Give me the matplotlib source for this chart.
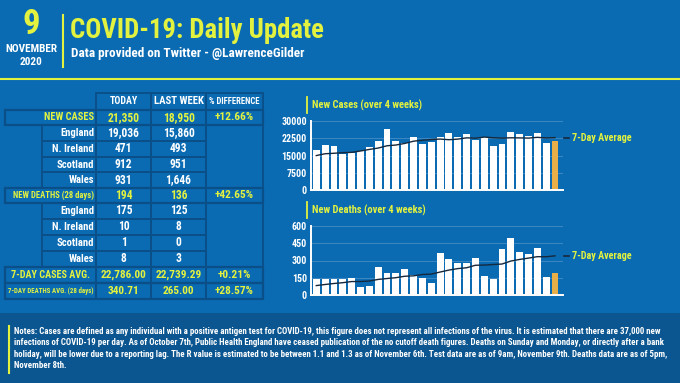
import matplotlib
matplotlib.use("Agg")
import matplotlib.pyplot as plt
from matplotlib import font_manager
from matplotlib.patches import Rectangle
import numpy as np

installed = {f.name for f in font_manager.fontManager.ttflist}
narrow = [n for n in ['Roboto Condensed', 'Liberation Sans Narrow', 'Roboto'] if n in installed]
plt.rcParams['font.family'] = narrow[:1] + ['DejaVu Sans']
plt.rcParams['font.weight'] = 'bold'

BG = '#0A6BB3'
DARK = '#0B4F88'
NOTES_BG = '#0B5690'
YELLOW = '#E3F23F'
ORANGE = '#E8AE48'
LINE = '#16283C'

# daily data, 13 Oct - 9 Nov 2020
cases = [17234, 19724, 18980, 15650, 16171, 16982, 18804, 21331, 26688, 21242,
         20530, 23012, 19790, 20890, 22885, 24701, 23065, 24405, 21915, 23254,
         18950, 20018, 25177, 24141, 23287, 24957, 20572, 21350]
cases_avg = [14973, 15767, 15973, 16228, 16372, 16959, 17649, 18235, 19229, 19553,
             20250, 21227, 21628, 21926, 22148, 21864, 22125, 22678, 22522, 23016,
             22739, 22560, 22700, 22650, 22560, 22900, 22650, 22786]
deaths = [143, 137, 138, 136, 150, 67, 80, 241, 191, 189, 224, 174, 151, 102,
          367, 310, 280, 274, 326, 162, 136, 397, 492, 378, 355, 413, 156, 194]
deaths_avg = [81.9, 91.4, 100.1, 107.1, 117.0, 117.3, 121.6, 135.6, 143.3, 150.6,
              163.1, 166.6, 178.6, 181.7, 199.7, 216.7, 229.7, 236.9, 258.6, 260.1,
              265.0, 269.3, 295.3, 309.3, 320.9, 333.3, 332.4, 340.7]

# table
row_labels = ['NEW CASES', 'England', 'N. Ireland', 'Scotland', 'Wales',
              'NEW DEATHS (28 days)', 'England', 'N. Ireland', 'Scotland', 'Wales',
              '7-DAY CASES AVG.', '7-DAY DEATHS AVG. (28 days)']
today = ['21,350', '19,036', '471', '912', '931', '194', '175', '10', '1', '8',
         '22,786.00', '340.71']
last_week = ['18,950', '15,860', '493', '951', '1,646', '136', '125', '8', '0', '3',
             '22,739.29', '265.00']
pct_diff = ['+12.66%', '', '', '', '', '+42.65%', '', '', '', '', '+0.21%', '+28.57%']
headers = ['TODAY', 'LAST WEEK', '% DIFFERENCE']

notes = ("Notes: Cases are defined as any individual with a positive antigen test for COVID-19, this figure does not represent all infections of the virus. It is estimated that there are 37,000 new\n"
         "infections of COVID-19 per day. As of October 7th, Public Health England have ceased publication of the no cutoff death figures. Deaths on Sunday and Monday, or directly after a bank\n"
         "holiday, will be lower due to a reporting lag. The R value is estimated to be between 1.1 and 1.3 as of November 6th. Test data are as of 9am, November 9th. Deaths data are as of 5pm,\n"
         "November 8th.")

W, H = 680, 383
fig = plt.figure(figsize=(W / 100, H / 100), dpi=100, facecolor=BG)
renderer = fig.canvas.get_renderer()


def px_axes(x, y, w, h):
    return fig.add_axes([x / W, 1 - (y + h) / H, w / W, h / H])


ov = px_axes(0, 0, W, H)
ov.set_xlim(0, W)
ov.set_ylim(H, 0)
ov.axis('off')


def fit(s, width, **kw):
    # font size that makes the string this many pixels wide
    t = ov.text(0, 0, s, fontsize=10, **kw)
    w = t.get_window_extent(renderer).width
    t.remove()
    return 10 * width / w


# header
ov.text(31, 24, '9', color=YELLOW, fontsize=25, ha='center', va='center')
ov.text(31, 49, 'NOVEMBER', color='white', fontsize=fit('NOVEMBER', 52), ha='center', va='center')
ov.text(31, 62, '2020', color='white', fontsize=fit('NOVEMBER', 52), ha='center', va='center')
ov.plot([63, 63], [15, 67], color=YELLOW, lw=1.5)
ov.text(70, 31, 'COVID-19: Daily Update', color=YELLOW,
        fontsize=fit('COVID-19: Daily Update', 253), ha='left', va='center')
sub = 'Data provided on Twitter - @LawrenceGilder'
ov.text(71, 53, sub, color='white', fontsize=fit(sub, 235), ha='left', va='center')
ov.plot([0, W], [79, 79], color=YELLOW, lw=1.5)

# table
cols = [96, 151, 206, 263]
row_edges = [110, 125, 141, 157, 172, 188, 203, 219, 235, 251, 267, 283, 299]
main_rows = [0, 5, 10, 11]
label_w = {'NEW CASES': 50, 'NEW DEATHS (28 days)': 81, '7-DAY CASES AVG.': 79,
           '7-DAY DEATHS AVG. (28 days)': 85}
sub_fs = fit('England', 34)
num_fs = fit('21,350', 32)
avg_fs = fit('22,786.00', 46)
pct_fs = fit('+12.66%', 39)


def cell(x0, y0, x1, y1, lw=1.3):
    ov.add_patch(Rectangle((x0, y0), x1 - x0, y1 - y0, facecolor='none',
                           edgecolor=DARK, lw=lw))


for j, (hd, hw) in enumerate(zip(headers, [28, 50, 50])):
    cell(cols[j], 93, cols[j + 1], 110)
    ov.text((cols[j] + cols[j + 1]) / 2, 101.5, hd, color='white',
            fontsize=fit(hd, hw), ha='center', va='center')

for i, lab in enumerate(row_labels):
    y0, y1 = row_edges[i], row_edges[i + 1]
    yc = (y0 + y1) / 2
    main = i in main_rows
    if main:
        cell(5, y0, cols[3], y1, lw=1.6)
        cell(5, y0, cols[0], y1)
        cell(cols[2], y0, cols[3], y1)
    else:
        cell(42, y0, cols[0], y1)
    cell(cols[0], y0, cols[1], y1)
    cell(cols[1], y0, cols[2], y1)
    tcol = YELLOW if main else 'white'
    fs = fit(lab, label_w[lab]) if main else sub_fs
    vfs = avg_fs if i >= 10 else num_fs
    if i >= 10:
        ov.text((5 + cols[0]) / 2, yc, lab, color=tcol, fontsize=fs, ha='center', va='center')
    else:
        ov.text(cols[0] - 2, yc, lab, color=tcol, fontsize=fs, ha='right', va='center')
    ov.text((cols[0] + cols[1]) / 2, yc, today[i], color=tcol, fontsize=vfs,
            ha='center', va='center')
    ov.text((cols[1] + cols[2]) / 2, yc, last_week[i], color=tcol, fontsize=vfs,
            ha='center', va='center')
    if pct_diff[i]:
        ov.text((cols[2] + cols[3]) / 2, yc, pct_diff[i], color=tcol, fontsize=pct_fs,
                ha='center', va='center')

# merged blank % cells
cell(cols[2], row_edges[1], cols[3], row_edges[5])
cell(cols[2], row_edges[6], cols[3], row_edges[10])

# notes band
ov.add_patch(Rectangle((0, 313), W, H - 313, facecolor=NOTES_BG, edgecolor='none'))
ov.plot([9, 9], [326, 373], color=YELLOW, lw=1.5)
ov.text(14, 326.5, notes, color='white', fontsize=fit(notes, 652), ha='left', va='top',
        linespacing=1.38)

tick_fs = fit('30000', 25)
title_fs = fit('New Cases (over 4 weeks)', 110)
legend_fs = fit('7-Day Average', 60)


def bar_chart(ax, values, avg, ymax, ticks, title, title_y):
    x = np.arange(len(values))
    colors = ['white'] * (len(values) - 1) + [ORANGE]
    ax.bar(x, values, width=0.78, color=colors, zorder=2)
    ax.plot(x, avg, color=LINE, lw=1, zorder=3)
    ax.set_xlim(-0.6, 27.9)
    ax.set_ylim(0, ymax)
    ax.set_yticks(ticks)
    ax.set_yticklabels([str(t) for t in ticks])
    ax.set_xticks([])
    ax.set_facecolor('none')
    for t in ticks[1:]:
        ax.axhline(t, color='#3B86C0', lw=0.8, zorder=1)
    for s in ['top', 'right']:
        ax.spines[s].set_visible(False)
    for s in ['left', 'bottom']:
        ax.spines[s].set_color('white')
        ax.spines[s].set_linewidth(1.4)
    ax.tick_params(axis='y', length=0, pad=3, colors='white', labelsize=tick_fs)
    # legend label beside last average value
    ax.plot([28.05, 28.6], [avg[-1], avg[-1]], color=LINE, lw=1.2, clip_on=False)
    ax.text(28.9, avg[-1], '7-Day Average', color=YELLOW, fontsize=legend_fs, ha='left',
            va='center', clip_on=False)
    ov.plot([307, 307], [title_y - 8, title_y + 8], color=YELLOW, lw=1.3)
    ov.text(312, title_y, title, color=YELLOW, fontsize=title_fs, ha='left', va='center')


ax1 = px_axes(311, 121, 252, 69)
bar_chart(ax1, cases, cases_avg, 30000, [0, 7500, 15000, 22500, 30000],
          'New Cases (over 4 weeks)', 105)
ax2 = px_axes(311, 226, 252, 69)
bar_chart(ax2, deaths, deaths_avg, 600, [0, 150, 300, 450, 600],
          'New Deaths (over 4 weeks)', 210)

fig.savefig('out.png', dpi=100, facecolor=BG)
